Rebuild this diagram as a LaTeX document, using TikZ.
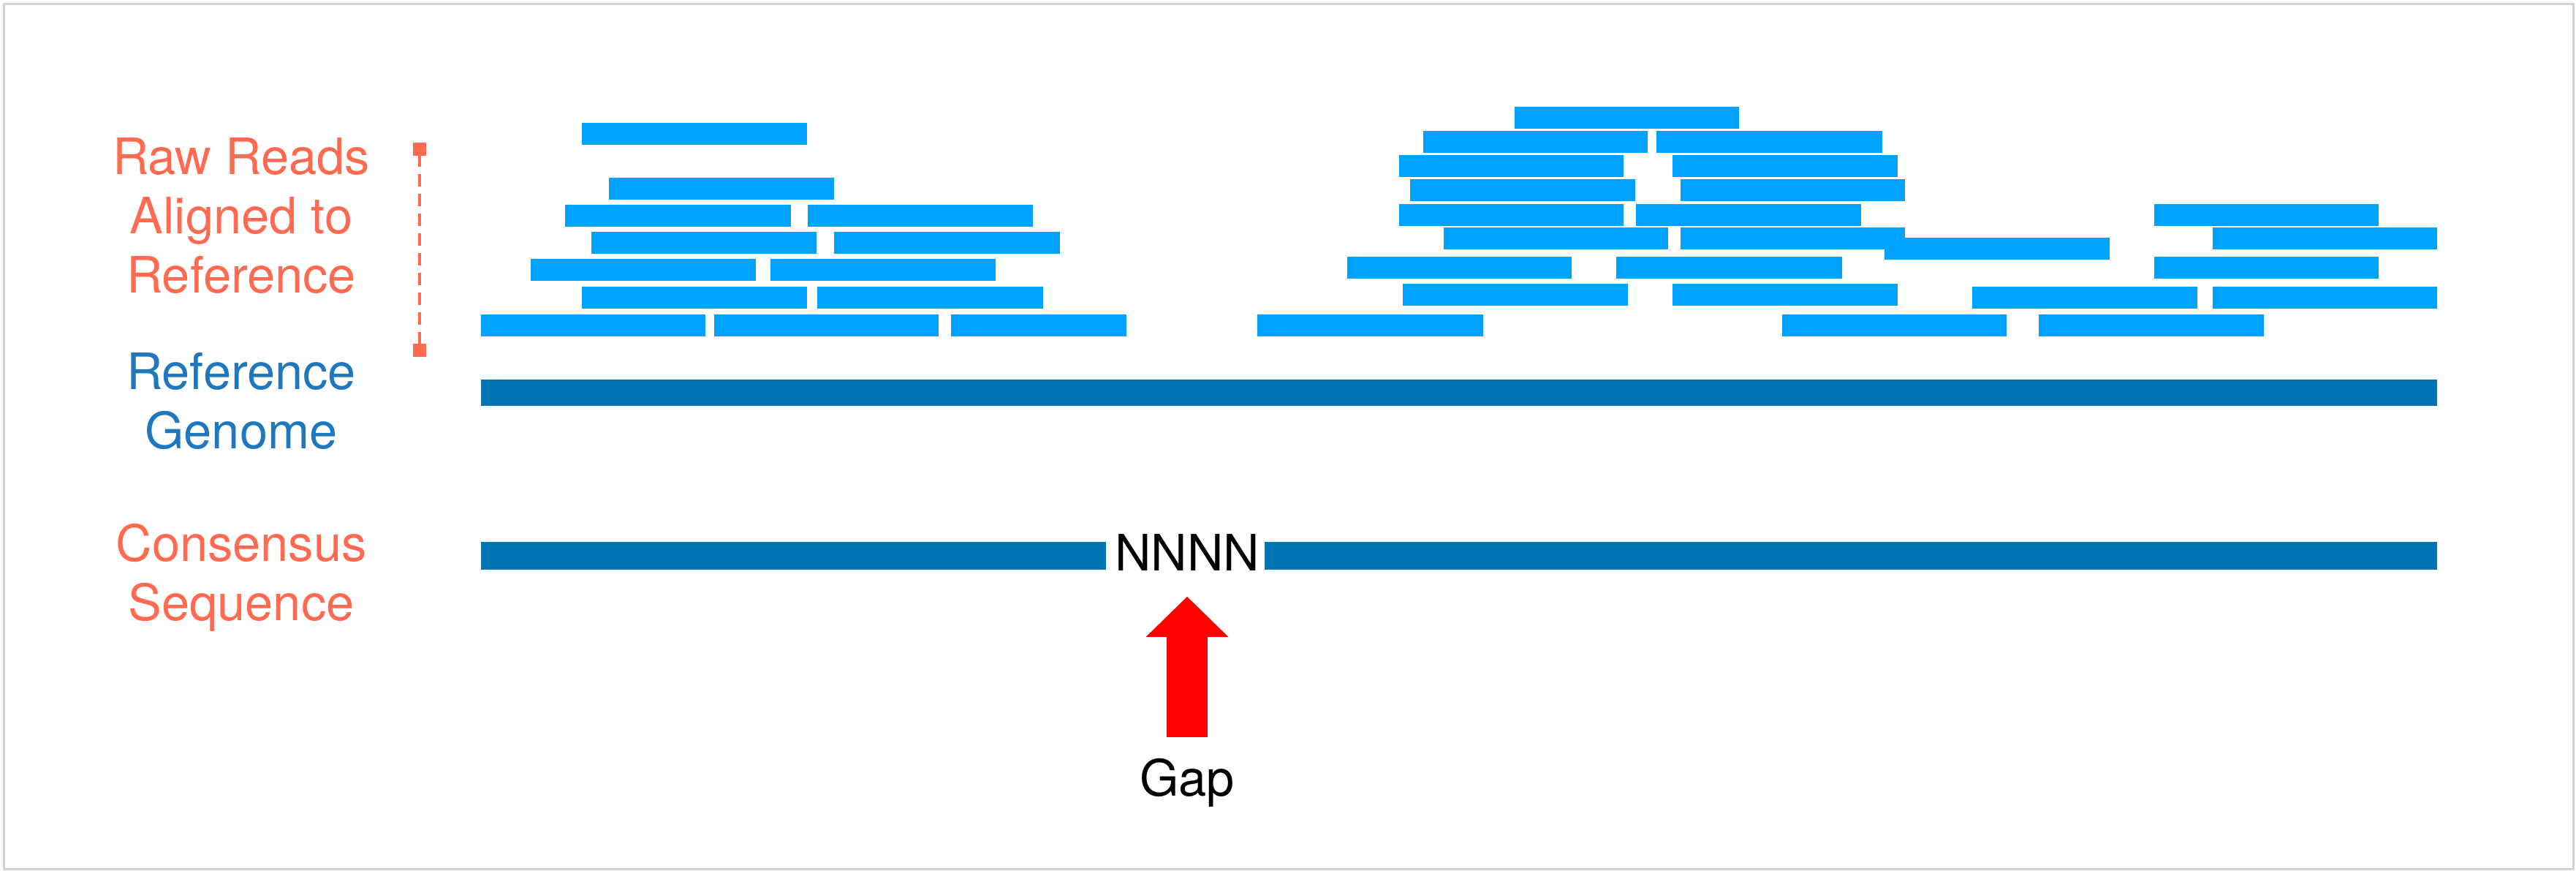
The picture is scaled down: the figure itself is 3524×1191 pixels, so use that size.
\documentclass[tikz,border=0pt]{standalone}
\usepackage{fontspec}
\setmainfont{TeX Gyre Heros}
\usetikzlibrary{arrows.meta}
\definecolor{readblue}{HTML}{00A2FF}
\definecolor{genomeblue}{HTML}{0073B5}
\definecolor{lblblue}{HTML}{1F78BE}
\definecolor{lblcoral}{HTML}{FF6A50}
\definecolor{gapred}{HTML}{FF0000}
\definecolor{framegray}{HTML}{D2D2D2}
\tikzset{read/.style = {fill=readblue},
  genome/.style = {fill=genomeblue},
  lbl/.style = {align=center, anchor=north, inner sep=0pt, font=\fontsize{19.5}{23}\selectfont},
  seqtxt/.style = {anchor=base, inner sep=0pt, font=\fontsize{19.5}{23}\selectfont},
  gaparrow/.style = {gapred, line width=0.56cm, -{Triangle[width=1.09cm, length=0.55cm]}, shorten <=0.28cm, shorten >=0.35cm}}
\begin{document}
\begin{tikzpicture}[x=0.01cm, y=-0.01cm]
\useasboundingbox (0,0) rectangle (3524,1191);
\draw [framegray, line width=0.03cm] (5.3,5.3) rectangle (3520,1188.5);
\foreach \a/\b/\r in {796/1104/183, 833/1141/258, 773/1082/295, 1105/1413/295,
  809/1117/332, 1141/1450/332, 726/1034/369, 1054/1362/369, 796/1104/407,
  1118/1427/407, 658/965/445, 977/1284/445, 1301/1541/445}
  \fill [read] (\a,\r-15) rectangle (\b,\r+15);
\foreach \a/\b/\r in {2072/2379/161, 1947/2254/194, 2266/2575/194, 1914/2221/227,
  2288/2596/227, 1929/2237/260, 2299/2606/260, 1914/2221/294, 2238/2546/294,
  2947/3254/294, 1975/2282/326, 2299/2606/326, 3027/3334/326, 2578/2886/340,
  1843/2150/366, 2211/2520/366, 2947/3254/366, 1919/2227/403, 2288/2596/403,
  2698/3006/407, 3027/3334/407, 1720/2029/445, 2438/2745/445, 2789/3097/445}
  \fill [read] (\a,\r-15) rectangle (\b,\r+15);
\fill [genome] (658,519) rectangle (3334,555);
\fill [genome] (658,741) rectangle (1513,779);
\fill [genome] (1730,741) rectangle (3334,779);
\draw [lblcoral, line width=0.04cm, dash pattern=on 0.17cm off 0.1cm,
  {Square[length=0.18cm, width=0.18cm]}-{Square[length=0.18cm, width=0.18cm]}] (574,195) -- (574,488);
\node [lbl, lblcoral] (rawlbl) at (330,188) {Raw Reads\\Aligned to\\Reference};
\node [lbl, lblblue] (reflbl) at (330,482) {Reference\\Genome};
\node [lbl, lblcoral] (conslbl) at (330,716) {Consensus\\Sequence};
\node [seqtxt] (nnnn) at (1624,780) {NNNN};
\node [seqtxt] (gap) at (1624,1088) {Gap};
\draw [gaparrow] (gap.north) -- (nnnn.south);
\end{tikzpicture}
\end{document}
